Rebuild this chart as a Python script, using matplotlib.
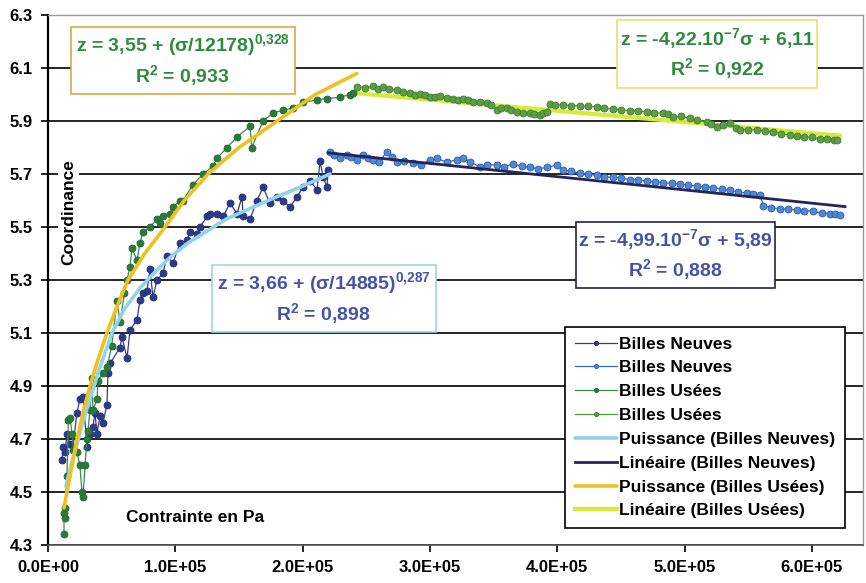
import matplotlib
matplotlib.use("Agg")
import matplotlib.pyplot as plt
from matplotlib.patches import Rectangle

plt.rcParams['font.family'] = ['Liberation Sans', 'DejaVu Sans']
plt.rcParams['font.weight'] = 'bold'
plt.rcParams['mathtext.fontset'] = 'custom'
plt.rcParams['mathtext.rm'] = 'Liberation Sans:bold'
plt.rcParams['mathtext.bf'] = 'Liberation Sans:bold'

# --- data (stress in Pa, coordination number) ---
neuves1_x = [11000, 11800, 13400, 14900, 17300, 19600, 22800, 25100, 27500, 30600,
             33000, 35300, 36900, 38500, 40800, 43200, 46300, 47100, 48700, 56600,
             58100, 62100, 64400, 69900, 72300, 74600, 77800, 80100, 82500, 85600,
             90300, 93500, 98200, 103700, 109200, 111500, 117000, 119400, 124900, 127300,
             132800, 137500, 143000, 148500, 152400, 153200, 158700, 164200, 168900, 174400,
             179900, 184600, 190100, 195600, 200300, 205800, 211300, 213700, 216000, 219200,
             220000]
neuves1_y = [4.62, 4.67, 4.65, 4.72, 4.68, 4.67, 4.80, 4.85, 4.86, 4.67,
             4.72, 4.745, 4.80, 4.72, 4.785, 4.76, 4.83, 4.95, 4.985, 5.045,
             5.085, 5.005, 5.11, 5.15, 5.225, 5.25, 5.26, 5.34, 5.235, 5.30,
             5.325, 5.39, 5.365, 5.44, 5.45, 5.48, 5.475, 5.50, 5.54, 5.55,
             5.55, 5.54, 5.59, 5.55, 5.615, 5.54, 5.53, 5.60, 5.65, 5.59,
             5.615, 5.60, 5.575, 5.615, 5.65, 5.675, 5.64, 5.75, 5.69, 5.65,
             5.715]

neuves2_x = [221500, 225000, 229400, 234600, 238000, 242500, 247700, 251000, 255500, 260000,
             266000, 270000, 273900, 280000, 286900, 293000, 300100, 305300, 313000, 321000,
             326000, 331500, 339300, 345000, 352400, 358000, 365500, 372000, 378600, 385000,
             392000, 399600, 404800, 411000, 417900, 424000, 431000, 437000, 444100, 450000,
             457200, 463000, 470300, 477000, 483300, 490000, 496400, 503000, 509600, 516000,
             522600, 529000, 535700, 542000, 548800, 554000, 559300, 561900, 568000, 575000,
             581000, 588100, 594000, 601200, 608000, 614300, 618200, 622000]
neuves2_y = [5.784, 5.770, 5.759, 5.772, 5.765, 5.753, 5.772, 5.760, 5.753, 5.745,
             5.784, 5.765, 5.747, 5.750, 5.740, 5.735, 5.753, 5.759, 5.745, 5.753,
             5.760, 5.747, 5.725, 5.735, 5.734, 5.728, 5.738, 5.730, 5.725, 5.720,
             5.725, 5.734, 5.715, 5.710, 5.702, 5.700, 5.696, 5.690, 5.687, 5.685,
             5.679, 5.677, 5.674, 5.670, 5.667, 5.665, 5.662, 5.658, 5.654, 5.652,
             5.649, 5.643, 5.638, 5.633, 5.628, 5.625, 5.619, 5.581, 5.572, 5.569,
             5.567, 5.565, 5.562, 5.559, 5.553, 5.550, 5.548, 5.546]

usees1_x = [12600, 12600, 13000, 13400, 14900, 16000, 17300, 18900, 20000, 22800,
            25100, 26700, 27500, 29100, 30600, 31400, 33000, 34600, 35300, 38500,
            39300, 43200, 46300, 50000, 54200, 56600, 60000, 62100, 64400, 66000,
            69900, 72300, 74600, 80100, 85600, 88000, 90300, 95800, 98200, 103700,
            106000, 113900, 121800, 129600, 132800, 140600, 148500, 158700, 160000, 168900,
            176700, 184600, 192400, 200300, 211300, 219200, 229400, 237200, 239600]
usees1_y = [4.34, 4.42, 4.40, 4.44, 4.56, 4.77, 4.78, 4.72, 4.66, 4.65,
            4.60, 4.50, 4.48, 4.60, 4.70, 4.73, 4.81, 4.93, 4.81, 4.85,
            4.92, 4.95, 4.97, 5.05, 5.22, 5.14, 5.25, 5.30, 5.35, 5.42,
            5.375, 5.44, 5.48, 5.50, 5.53, 5.515, 5.54, 5.55, 5.575, 5.60,
            5.60, 5.66, 5.70, 5.73, 5.76, 5.80, 5.84, 5.88, 5.80, 5.90,
            5.93, 5.94, 5.95, 5.97, 5.98, 5.985, 5.99, 6.00, 6.005]

usees2_x = [242500, 249000, 255500, 259000, 263300, 268000, 273900, 279000, 284300, 288000,
            292200, 296000, 300100, 304000, 307900, 313000, 318400, 322000, 326300, 330000,
            334100, 339000, 344600, 348000, 352400, 356000, 360300, 364000, 368100, 373000,
            378600, 382000, 386500, 389000, 391700, 394300, 398000, 404800, 411000, 417900,
            424000, 431000, 437000, 444100, 450000, 457200, 463000, 470300, 476000, 483300,
            487000, 491200, 497000, 504300, 510000, 517400, 521000, 525300, 530000, 535700,
            540000, 543600, 550000, 556700, 563000, 569800, 576000, 582900, 588000, 593400,
            600000, 606500, 612000, 617000, 620000]
usees2_y = [6.030, 6.025, 6.032, 6.020, 6.027, 6.022, 6.017, 6.010, 6.004, 6.000,
            6.002, 5.998, 5.992, 5.990, 5.994, 5.988, 5.985, 5.980, 5.985, 5.978,
            5.973, 5.970, 5.967, 5.960, 5.942, 5.950, 5.948, 5.940, 5.935, 5.930,
            5.929, 5.926, 5.923, 5.930, 5.935, 5.964, 5.962, 5.961, 5.958, 5.957,
            5.955, 5.954, 5.950, 5.944, 5.942, 5.939, 5.937, 5.935, 5.932, 5.929,
            5.925, 5.916, 5.918, 5.910, 5.905, 5.897, 5.888, 5.878, 5.885, 5.891,
            5.872, 5.868, 5.868, 5.866, 5.862, 5.859, 5.852, 5.847, 5.845, 5.840,
            5.838, 5.834, 5.832, 5.830, 5.830]

# trend lines as drawn
pow_neuves_x = [14100, 18000, 22800, 27500, 33000, 40000, 50300, 60000, 72300, 84000,
                95800, 110000, 123300, 140000, 158700, 180000, 198000, 221500]
pow_neuves_y = [4.52, 4.60, 4.68, 4.77, 4.85, 4.96, 5.10, 5.19, 5.27, 5.33,
                5.385, 5.44, 5.48, 5.53, 5.57, 5.615, 5.65, 5.70]
lin_neuves_x = [220000, 626000]
lin_neuves_y = [5.78, 5.577]
pow_usees_x = [12600, 14900, 18900, 22800, 27500, 33000, 39300, 46300, 54200, 62800,
               76000, 91900, 107000, 125700, 150000, 179900, 210000, 242700]
pow_usees_y = [4.44, 4.50, 4.60, 4.70, 4.80, 4.90, 5.00, 5.10, 5.20, 5.30,
               5.40, 5.50, 5.60, 5.70, 5.80, 5.90, 6.00, 6.08]
lin_usees_x = [242000, 622000]
lin_usees_y = [6.005, 5.845]

x_ticks = [0, 100000, 200000, 300000, 400000, 500000, 600000]
x_ticklabels = ["0.0E+00", "1.0E+05", "2.0E+05", "3.0E+05", "4.0E+05", "5.0E+05", "6.0E+05"]
y_ticks = [4.3, 4.5, 4.7, 4.9, 5.1, 5.3, 5.5, 5.7, 5.9, 6.1, 6.3]

fig = plt.figure(figsize=(8.66, 5.83), dpi=100)
ax = fig.add_axes([0.0554, 0.0652, 0.941, 0.909])

ax.plot(neuves1_x, neuves1_y, color='#343a86', lw=0.9, marker='o', ms=5,
        mfc='#2c3a8e', mec='#22306e', mew=0.6, label='Billes Neuves', zorder=3)
ax.plot(neuves2_x, neuves2_y, color='#3a68b8', lw=0.9, marker='o', ms=5,
        mfc='#4f88d4', mec='#2f5ca8', mew=0.6, label='Billes Neuves', zorder=3)
ax.plot(usees1_x, usees1_y, color='#3a8a48', lw=0.9, marker='o', ms=5,
        mfc='#2c7a3a', mec='#226a30', mew=0.6, label='Billes Usées', zorder=3)
ax.plot(usees2_x, usees2_y, color='#4e9a3c', lw=0.9, marker='o', ms=5,
        mfc='#5c9e44', mec='#3e7e30', mew=0.6, label='Billes Usées', zorder=3)

ax.plot(pow_neuves_x, pow_neuves_y, color='#92d2ea', lw=2.6,
        label='Puissance (Billes Neuves)', zorder=4, solid_capstyle='round')
ax.plot(lin_neuves_x, lin_neuves_y, color='#24245e', lw=2.0,
        label='Linéaire (Billes Neuves)', zorder=4)
ax.plot(pow_usees_x, pow_usees_y, color='#f0c020', lw=2.6,
        label='Puissance (Billes Usées)', zorder=4, solid_capstyle='round')
ax.plot(lin_usees_x, lin_usees_y, color='#d6ea3c', lw=3.0,
        label='Linéaire (Billes Usées)', zorder=2.5)

ax.set_xlim(0, 640000)
ax.set_ylim(4.3, 6.3)
ax.set_xticks(x_ticks)
ax.set_xticklabels(x_ticklabels)
ax.set_yticks(y_ticks)
ax.set_yticklabels([f"{v:.1f}" for v in y_ticks])
ax.tick_params(axis='both', direction='out', length=5, width=1.2)
ax.tick_params(axis='x', labelsize=12, pad=6)
ax.tick_params(axis='y', labelsize=12, pad=6)
for lab in ax.get_xticklabels() + ax.get_yticklabels():
    lab.set_fontweight('bold')

ax.yaxis.grid(True, color='black', lw=1.2, zorder=1)
ax.set_axisbelow(True)
ax.spines['left'].set_color('black')
ax.spines['left'].set_linewidth(1.6)
ax.spines['bottom'].set_color('#555555')
ax.spines['bottom'].set_linewidth(1.2)
for s in ['top', 'right']:
    ax.spines[s].set_color('#9a9a9a')
    ax.spines[s].set_linewidth(1.0)

# equation boxes
boxes = [
    ((0.028, 0.851), 0.275, 0.126, '#dca548', '#2e8b3e',
     "z = 3,55 + (σ/12178)$^{0{,}328}$\nR$^{2}$ = 0,933"),
    ((0.698, 0.862), 0.246, 0.129, '#e4e274', '#2e8b3e',
     "z = -4,22.10$^{-7}$σ + 6,11\nR$^{2}$ = 0,922"),
    ((0.201, 0.402), 0.275, 0.126, '#9fd4e6', '#4552a8',
     "z = 3,66 + (σ/14885)$^{0{,}287}$\nR$^{2}$ = 0,898"),
    ((0.648, 0.485), 0.244, 0.124, '#22224e', '#4552a8',
     "z = -4,99.10$^{-7}$σ + 5,89\nR$^{2}$ = 0,888"),
]
for (x0, y0), w, h, ec, tc, txt in boxes:
    ax.add_patch(Rectangle((x0, y0), w, h, transform=ax.transAxes, facecolor='white',
                           edgecolor=ec, lw=1.2, zorder=6))
    ax.text(x0 + w / 2, y0 + h / 2, txt, transform=ax.transAxes, ha='center', va='center',
            color=tc, fontsize=14, fontweight='bold', linespacing=1.2, zorder=7)

ax.text(0.025, 0.628, "Coordinance", transform=ax.transAxes, rotation=90, ha='center',
        va='center', fontsize=12.5, fontweight='bold', zorder=5,
        bbox=dict(facecolor='white', edgecolor='none', pad=2))
ax.text(0.096, 0.051, "Contrainte en Pa", transform=ax.transAxes, ha='left', va='center',
        fontsize=12.5, fontweight='bold', zorder=5)

leg = ax.legend(loc='lower right', bbox_to_anchor=(0.978, 0.032), fontsize=12.5,
                frameon=True, fancybox=False, edgecolor='black', framealpha=1,
                handlelength=2.4, handletextpad=0.15, labelspacing=0.5, borderpad=0.55,
                borderaxespad=0, markerscale=0.6)
leg.get_frame().set_linewidth(1.2)
leg.set_zorder(8)
for t in leg.get_texts():
    t.set_fontweight('bold')

fig.savefig("out.png", dpi=100)
